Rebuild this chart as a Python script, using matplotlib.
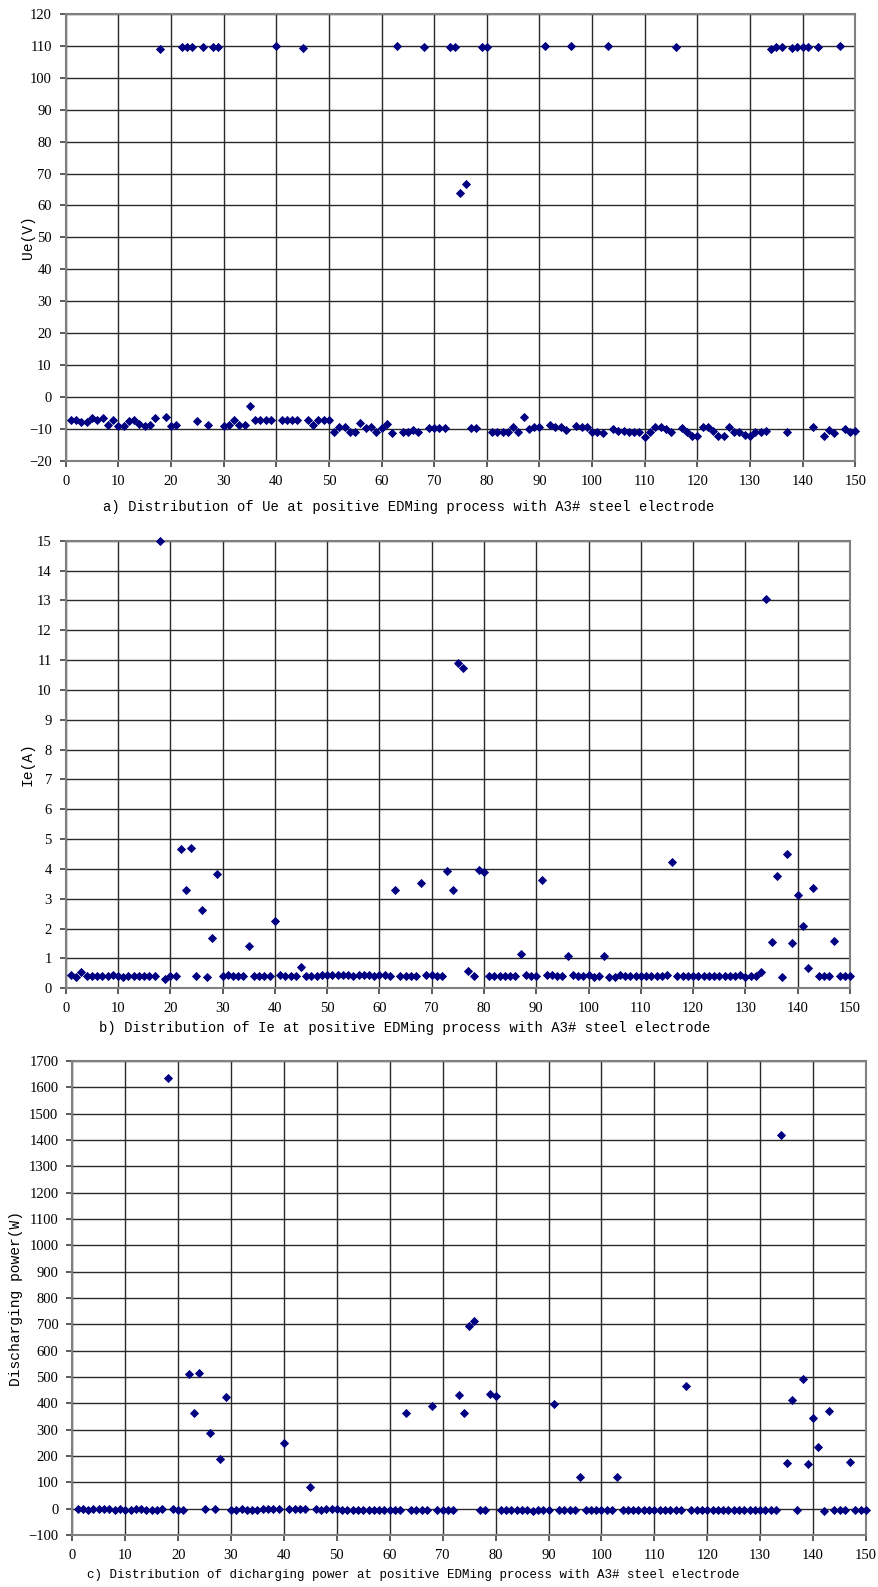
import numpy as np
import matplotlib
matplotlib.use("Agg")
import matplotlib.pyplot as plt

plt.rcParams['font.family'] = ['Liberation Serif', 'DejaVu Serif']
plt.rcParams['font.size'] = 10.5

sample = np.arange(1, 151)

ue = [-7.3, -7.3, -8.0, -7.8, -6.5, -7.2, -6.6, -8.8, -7.2, -9.0,
      -9.0, -7.6, -7.4, -8.6, -9.0, -8.9, -6.6, 109.1, -6.4, -9.0,
      -8.9, 109.8, 109.8, 109.8, -7.7, 109.8, -8.9, 109.8, 109.8, -9.1,
      -8.9, -7.3, -8.8, -8.8, -2.9, -7.3, -7.3, -7.3, -7.3, 110.0,
      -7.3, -7.3, -7.3, -7.4, 109.5, -7.3, -8.8, -7.1, -7.3, -7.3,
      -11.0, -9.5, -9.4, -11.0, -11.0, -8.3, -9.8, -9.4, -11.0, -9.7,
      -8.6, -11.4, 110.0, -11.0, -11.0, -10.5, -11.0, 109.8, -9.9, -9.7,
      -9.8, -9.8, 109.8, 109.8, 63.8, 66.8, -9.9, -9.9, 109.8, 109.8,
      -11.0, -11.0, -11.1, -10.9, -9.4, -11.0, -6.3, -10.0, -9.4, -9.4,
      110.0, -8.8, -9.3, -9.3, -10.5, 110.0, -9.2, -9.4, -9.4, -11.0,
      -11.1, -11.2, 110.0, -10.2, -10.8, -10.8, -11.1, -11.1, -11.0, -12.5,
      -11.0, -9.4, -9.4, -10.0, -11.0, 109.8, -9.7, -11.0, -12.4, -12.4,
      -9.4, -9.4, -10.6, -12.4, -12.4, -9.4, -11.0, -11.1, -11.8, -12.3,
      -11.1, -11.1, -10.8, 109.1, 109.8, 109.8, -11.1, 109.4, 109.8, 109.8,
      109.8, -9.4, 109.8, -12.4, -10.5, -11.2, 110.0, -10.1, -10.9, -10.7]

ie = [0.45, 0.39, 0.54, 0.40, 0.42, 0.42, 0.42, 0.42, 0.45, 0.41,
      0.39, 0.41, 0.40, 0.41, 0.42, 0.42, 0.41, 15.0, 0.30, 0.41,
      0.40, 4.67, 3.31, 4.70, 0.41, 2.62, 0.39, 1.69, 3.83, 0.40,
      0.43, 0.41, 0.41, 0.42, 1.43, 0.41, 0.40, 0.41, 0.42, 2.24,
      0.46, 0.42, 0.42, 0.41, 0.73, 0.40, 0.40, 0.40, 0.43, 0.43,
      0.43, 0.43, 0.43, 0.43, 0.41, 0.43, 0.45, 0.45, 0.42, 0.43,
      0.45, 0.42, 3.30, 0.41, 0.41, 0.41, 0.41, 3.53, 0.45, 0.43,
      0.40, 0.41, 3.93, 3.31, 10.91, 10.72, 0.59, 0.42, 3.96, 3.90,
      0.41, 0.41, 0.41, 0.42, 0.42, 0.41, 1.16, 0.43, 0.42, 0.41,
      3.62, 0.43, 0.43, 0.42, 0.41, 1.09, 0.44, 0.41, 0.42, 0.43,
      0.37, 0.42, 1.09, 0.39, 0.39, 0.43, 0.42, 0.42, 0.42, 0.41,
      0.41, 0.41, 0.42, 0.41, 0.43, 4.24, 0.41, 0.41, 0.41, 0.41,
      0.41, 0.41, 0.42, 0.41, 0.41, 0.41, 0.41, 0.42, 0.45, 0.39,
      0.41, 0.41, 0.54, 13.04, 1.54, 3.75, 0.39, 4.51, 1.52, 3.12,
      2.10, 0.69, 3.36, 0.41, 0.41, 0.40, 1.60, 0.41, 0.42, 0.41]

power = [-3, -3, -4, -3, -3, -3, -3, -4, -3, -4,
         -4, -3, -3, -4, -4, -4, -3, 1636, -2, -4,
         -4, 511, 364, 516, -3, 289, -3, 187, 423, -4,
         -4, -3, -4, -4, -4, -3, -3, -3, -3, 249,
         -3, -3, -3, -3, 81, -3, -4, -3, -3, -3,
         -5, -4, -4, -5, -5, -4, -4, -4, -5, -4,
         -4, -5, 364, -5, -5, -4, -5, 389, -4, -4,
         -4, -4, 430, 364, 693, 713, -6, -4, 436, 428,
         -5, -5, -5, -5, -4, -5, -7, -4, -4, -4,
         398, -4, -4, -4, -4, 122, -4, -4, -4, -5,
         -4, -5, 122, -4, -4, -5, -5, -5, -5, -5,
         -5, -4, -4, -4, -5, 466, -4, -5, -5, -5,
         -4, -4, -4, -5, -5, -4, -5, -5, -5, -5,
         -5, -5, -6, 1419, 172, 413, -4, 494, 168, 345,
         234, -7, 370, -5, -4, -4, 177, -4, -5, -4]

captions = ["a) Distribution of Ue at positive EDMing process with A3# steel electrode",
            "b) Distribution of Ie at positive EDMing process with A3# steel electrode",
            "c) Distribution of dicharging power at positive EDMing process with A3# steel electrode"]
cap_size = [10, 10, 9]
ylabels = ["Ue(V)", "Ie(A)", "Discharging power(W)"]

W, H = 879, 1587
fig = plt.figure(figsize=(W / 100, H / 100), dpi=100)

# axes boxes in pixels: left, right, top, bottom
boxes = [(65.7, 855.3, 14, 460.7), (65.7, 850, 540.7, 988.3), (72.3, 866, 1061, 1535)]
ylims = [(-20, 120, 10), (0, 15, 1), (-100, 1700, 100)]
series = [ue, ie, power]
cap_pos = [(409, 507), (405, 1028), (413, 1575)]
ylab_x = [28, 28, 16]

mono = ['Liberation Mono', 'DejaVu Sans Mono']

for i in range(3):
    l, r, t, b = boxes[i]
    ax = fig.add_axes([l / W, 1 - b / H, (r - l) / W, (b - t) / H])
    ax.scatter(sample, series[i], marker='D', s=22, color='#000080', zorder=3,
               linewidths=0, clip_on=False)
    lo, hi, step = ylims[i]
    ax.set_xlim(0, 150)
    ax.set_ylim(lo, hi)
    ax.set_xticks(np.arange(0, 151, 10))
    ax.set_yticks(np.arange(lo, hi + step / 2, step))
    ax.grid(True, color='#2a2a2a', linewidth=1.0)
    ax.set_axisbelow(True)
    for s in ax.spines.values():
        s.set_color('#808080')
        s.set_linewidth(1.5)
    ax.tick_params(direction='out', length=4, width=1.2, color='#404040', labelsize=10.5, pad=6)
    fig.text(ylab_x[i] / W, 1 - ((t + b) / 2) / H, ylabels[i], rotation=90,
             ha='center', va='center', family=mono, fontsize=10.5)
    cx, cy = cap_pos[i]
    fig.text(cx / W, 1 - cy / H, captions[i], ha='center', va='center', family=mono,
             fontsize=cap_size[i])

fig.savefig('out.png', dpi=100)
